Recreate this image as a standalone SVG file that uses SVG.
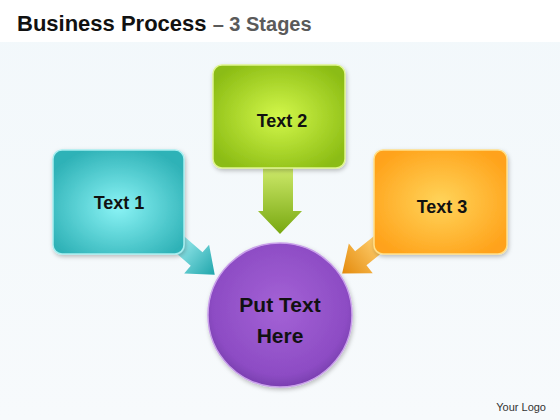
<svg xmlns="http://www.w3.org/2000/svg" width="560" height="420" viewBox="0 0 560 420">
<defs>
<linearGradient id="bg" x1="0" y1="0" x2="0" y2="1">
<stop offset="0" stop-color="#f2f8fb"/>
<stop offset="1" stop-color="#f7fafc"/>
</linearGradient>
<radialGradient id="gTeal" cx="0.5" cy="0.55" r="0.6">
<stop offset="0" stop-color="#8af3f5"/>
<stop offset="1" stop-color="#2fb2b7"/>
</radialGradient>
<radialGradient id="gGreen" cx="0.5" cy="0.5" r="0.6">
<stop offset="0" stop-color="#d2f74a"/>
<stop offset="1" stop-color="#8bbc14"/>
</radialGradient>
<radialGradient id="gOrange" cx="0.5" cy="0.5" r="0.6">
<stop offset="0" stop-color="#ffd45a"/>
<stop offset="1" stop-color="#ffa21a"/>
</radialGradient>
<radialGradient id="gPurple" cx="0.5" cy="0.45" r="0.55">
<stop offset="0" stop-color="#a462d6"/>
<stop offset="0.85" stop-color="#8d4cc4"/>
<stop offset="1" stop-color="#7a3fb0"/>
</radialGradient>
<linearGradient id="aGreen" x1="0" y1="0" x2="0" y2="1">
<stop offset="0" stop-color="#cde96a"/>
<stop offset="1" stop-color="#78a810"/>
</linearGradient>
<linearGradient id="aTeal" x1="0" y1="0" x2="1" y2="0">
<stop offset="0" stop-color="#9cecef"/>
<stop offset="1" stop-color="#1fa5ab"/>
</linearGradient>
<linearGradient id="aOrange" x1="0" y1="0" x2="1" y2="0">
<stop offset="0" stop-color="#ffd070"/>
<stop offset="1" stop-color="#e48a0c"/>
</linearGradient>
<path id="arr" d="M0 -9 H26 V-19 L50 0 L26 19 V9 H0 Z"/>
<filter id="sh" x="-20%" y="-20%" width="140%" height="140%">
<feDropShadow dx="1" dy="2" stdDeviation="2" flood-color="#000" flood-opacity="0.25"/>
</filter>
</defs>
<style>
.lbl{font-family:"Liberation Sans",Arial,sans-serif;font-weight:bold;fill:#111;text-anchor:middle}
.box{filter:url(#sh)}
</style>
<rect width="560" height="420" fill="url(#bg)"/>
<rect width="560" height="42" fill="#ffffff"/>
<text x="17" y="31" font-family="Liberation Sans,Arial,sans-serif" font-weight="bold" font-size="22" fill="#111">Business Process <tspan fill="#5a5a5a" font-size="20">– 3 Stages</tspan></text>

<g id="connectors">
<path d="M263 168 H293 V211 H302 L280 234 L258 211 H263 Z" fill="url(#aGreen)"/>
<use href="#arr" transform="translate(177,242) rotate(41)" fill="url(#aTeal)"/>
<use href="#arr" transform="translate(381,242) rotate(141)" fill="url(#aOrange)"/>
</g>

<g id="node-text1">
<rect class="box" x="53" y="150" width="131" height="104" rx="9" fill="url(#gTeal)" stroke="#a8eef0" stroke-width="1.5"/>
<text class="lbl" x="119" y="209" font-size="18">Text 1</text>
</g>
<g id="node-text2">
<rect class="box" x="213" y="65" width="132" height="103" rx="9" fill="url(#gGreen)" stroke="#e0f590" stroke-width="1.5"/>
<text class="lbl" x="282" y="127" font-size="18">Text 2</text>
</g>
<g id="node-text3">
<rect class="box" x="374" y="150" width="133" height="104" rx="9" fill="url(#gOrange)" stroke="#ffe08a" stroke-width="1.5"/>
<text class="lbl" x="442" y="213" font-size="18">Text 3</text>
</g>
<g id="node-center">
<circle class="box" cx="280" cy="315" r="72" fill="url(#gPurple)" stroke="#c9a0ea" stroke-width="1.5"/>
<text class="lbl" x="280" y="312" font-size="21">Put Text</text>
<text class="lbl" x="280" y="343" font-size="21">Here</text>
</g>
<text x="546" y="411" text-anchor="end" font-family="Liberation Sans,Arial,sans-serif" font-size="11" fill="#333">Your Logo</text>
</svg>
